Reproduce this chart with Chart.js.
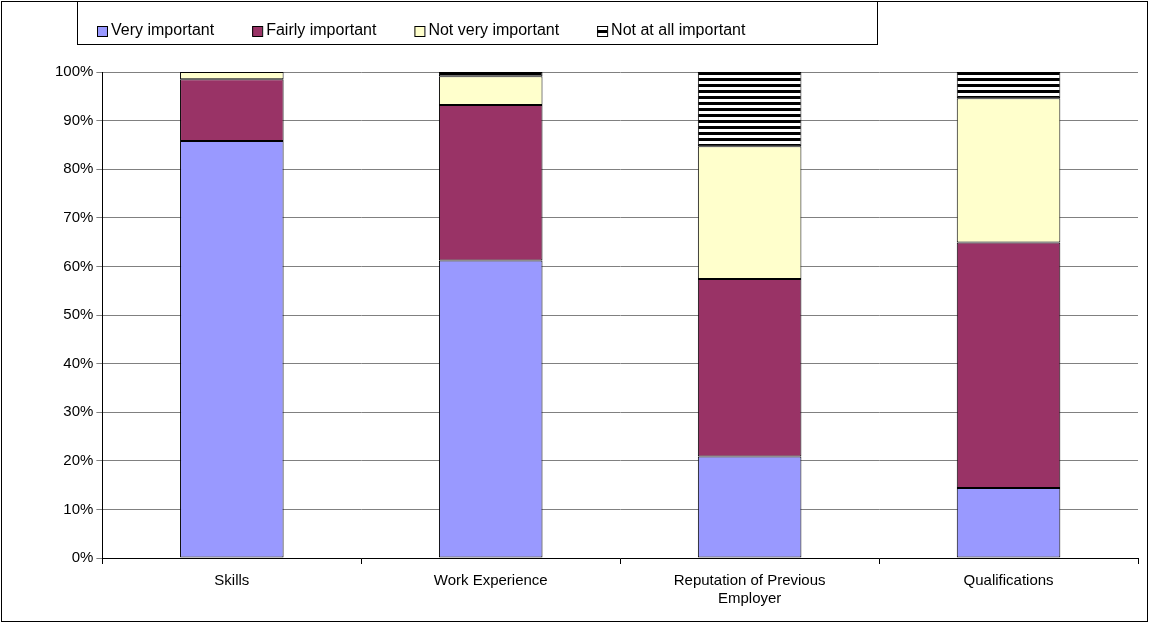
<!DOCTYPE html>
<html><head><meta charset="utf-8">
<script src="https://cdn.jsdelivr.net/npm/chart.js@4"></script>
<style>body{margin:0;background:#fff}#w{width:1149px;height:623px}</style>
</head><body><div id="w"><canvas id="c"></canvas></div>
<script>
const categories = [['Skills'], ['Work Experience'], ['Reputation of Previous', 'Employer'], ['Qualifications']];
const veryImportant = [85.8, 61.2, 20.9, 14.4];
const fairlyImportant = [12.7, 32.0, 36.5, 50.5];
const notVeryImportant = [1.5, 5.9, 27.3, 29.7];
const notAtAllImportant = [0, 0.9, 15.3, 5.4];
const FONT = 'Arial, "Liberation Sans"';

function stripes() {
  const p = document.createElement('canvas');
  p.width = 8; p.height = 6;
  const g = p.getContext('2d');
  g.fillStyle = '#fff'; g.fillRect(0, 0, 8, 6);
  g.fillStyle = '#000'; g.fillRect(0, 0, 8, 3);
  return document.getElementById('c').getContext('2d').createPattern(p, 'repeat');
}

// frame plus the boxed legend drawn by hand
const frame = {
  id: 'frame',
  afterDraw(chart) {
    const g = chart.ctx;
    g.save();
    g.strokeStyle = '#000'; g.lineWidth = 1;
    g.strokeRect(1.5, 1.5, 1146, 620);
    g.strokeRect(77.5, 1.5, 800, 43);
    g.font = '16px ' + FONT;
    g.textBaseline = 'middle';
    let x = 97;
    chart.data.datasets.forEach(d => {
      g.fillStyle = d.backgroundColor;
      g.fillRect(x, 26, 10, 10);
      g.strokeRect(x + 0.5, 26.5, 10, 10);
      g.fillStyle = '#000';
      g.fillText(d.label, x + 14, 31);
      x += 14 + g.measureText(d.label).width + 38;
    });
    g.restore();
  }
};

new Chart(document.getElementById('c'), {
  type: 'bar',
  data: {
    labels: categories,
    datasets: [
      { label: 'Very important', data: veryImportant, backgroundColor: '#9999ff' },
      { label: 'Fairly important', data: fairlyImportant, backgroundColor: '#993366' },
      { label: 'Not very important', data: notVeryImportant, backgroundColor: '#ffffcc' },
      { label: 'Not at all important', data: notAtAllImportant, backgroundColor: stripes() }
    ].map(d => Object.assign(d, { borderColor: '#000', borderWidth: 1, borderSkipped: false, categoryPercentage: 1, barPercentage: 0.4 }))
  },
  options: {
    responsive: true, maintainAspectRatio: false, animation: false,
    layout: { padding: { left: 52, right: 11, top: 72, bottom: 7 } },
    plugins: { tooltip: { enabled: false }, legend: { display: false } },
    scales: {
      x: {
        stacked: true,
        grid: { display: true, drawOnChartArea: false, color: '#000', offset: true, tickLength: 6 },
        border: { color: '#000' },
        ticks: { font: { family: FONT, size: 15 }, color: '#000', maxRotation: 0, padding: 8 }
      },
      y: {
        stacked: true, min: 0, max: 100,
        grid: { color: '#808080', tickLength: 6 },
        border: { color: '#000' },
        ticks: { stepSize: 10, callback: v => v + '%', font: { family: FONT, size: 15 }, color: '#000' }
      }
    }
  },
  plugins: [frame]
});
</script></body></html>
